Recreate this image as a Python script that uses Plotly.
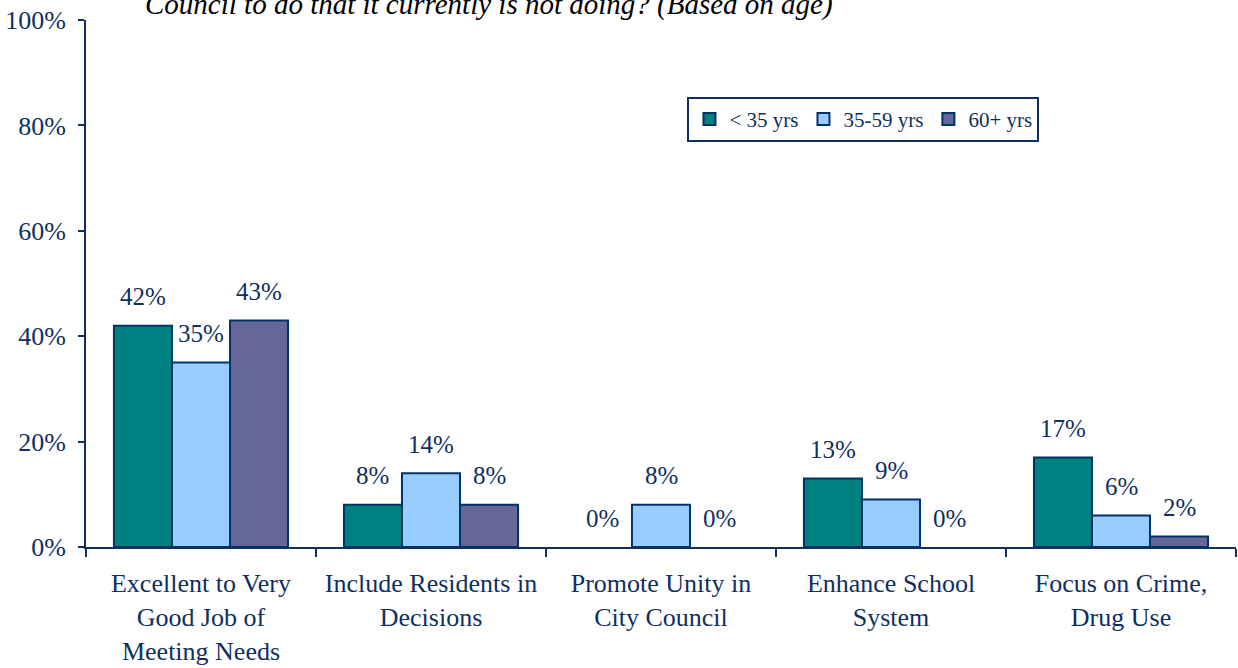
import plotly.graph_objects as go

categories = [
    "Excellent to Very<br>Good Job of<br>Meeting Needs",
    "Include Residents in<br>Decisions",
    "Promote Unity in<br>City Council",
    "Enhance School<br>System",
    "Focus on Crime,<br>Drug Use",
]
series_names = ["< 35 yrs", "35-59 yrs", "60+ yrs"]
under_35 = [42, 8, 0, 13, 17]
age_35_59 = [35, 14, 8, 9, 6]
age_60_plus = [43, 8, 0, 0, 2]
y_ticks = [0, 20, 40, 60, 80, 100]
y_tick_labels = ["0%", "20%", "40%", "60%", "80%", "100%"]

colors = ["#008080", "#99CCFF", "#666699"]
navy = "#0F2F5F"
font_family = "Liberation Serif"

series = [under_35, age_35_59, age_60_plus]
bargap = 0.243

fig = go.Figure()
for name, vals, col in zip(series_names, series, colors):
    fig.add_trace(go.Bar(
        name=name, x=categories, y=vals,
        marker=dict(color=col,
                    line=dict(color="#003366", width=[2 if v > 0 else 0 for v in vals])),
    ))

# data labels above bars
bar_w = (1 - bargap) / len(series)
for si, vals in enumerate(series):
    off = (si - (len(series) - 1) / 2) * bar_w
    for ci, v in enumerate(vals):
        fig.add_annotation(
            x=ci + off, y=v, xref="x", yref="y", text=f"{v}%",
            showarrow=False, yanchor="middle", yshift=29,
            font=dict(family=font_family, size=25, color=navy),
        )

fig.add_annotation(
    xref="paper", yref="paper", x=0.35, y=1, yshift=16, yanchor="middle",
    text="<i>Council to do that it currently is not doing? (Based on age)</i>",
    showarrow=False, font=dict(family=font_family, size=29, color="#000000"),
)

fig.update_layout(
    width=1238, height=668,
    margin=dict(l=86, r=2, t=20, b=121, autoexpand=False),
    paper_bgcolor="white", plot_bgcolor="white",
    barmode="group", bargap=bargap, bargroupgap=0,
    font=dict(family=font_family, size=25, color=navy),
    showlegend=True,
    legend=dict(
        orientation="h", x=0.523, y=0.854, xanchor="left", yanchor="top",
        bordercolor=navy, borderwidth=2, bgcolor="white",
        font=dict(family=font_family, size=21, color=navy),
        itemwidth=30, tracegroupgap=0,
    ),
    xaxis=dict(
        type="category", categoryorder="array", categoryarray=categories,
        range=[-0.5, len(categories) - 0.5], automargin=False,
        showline=True, linecolor=navy, linewidth=2,
        ticks="outside", tickson="boundaries", ticklen=8, tickwidth=2, tickcolor=navy,
        showgrid=False, zeroline=False, ticklabelstandoff=12,
        tickfont=dict(family=font_family, size=26, color=navy),
    ),
    yaxis=dict(
        range=[0, 100], tickvals=y_ticks, ticktext=y_tick_labels, automargin=False,
        showline=True, linecolor=navy, linewidth=2,
        ticks="outside", ticklen=6, tickwidth=2, tickcolor=navy,
        showgrid=False, zeroline=False, ticklabelstandoff=7,
        tickfont=dict(family=font_family, size=26, color=navy),
    ),
)

fig.write_html("out.html", config={"displayModeBar": False},
               post_script="document.body.style.margin='0';")
